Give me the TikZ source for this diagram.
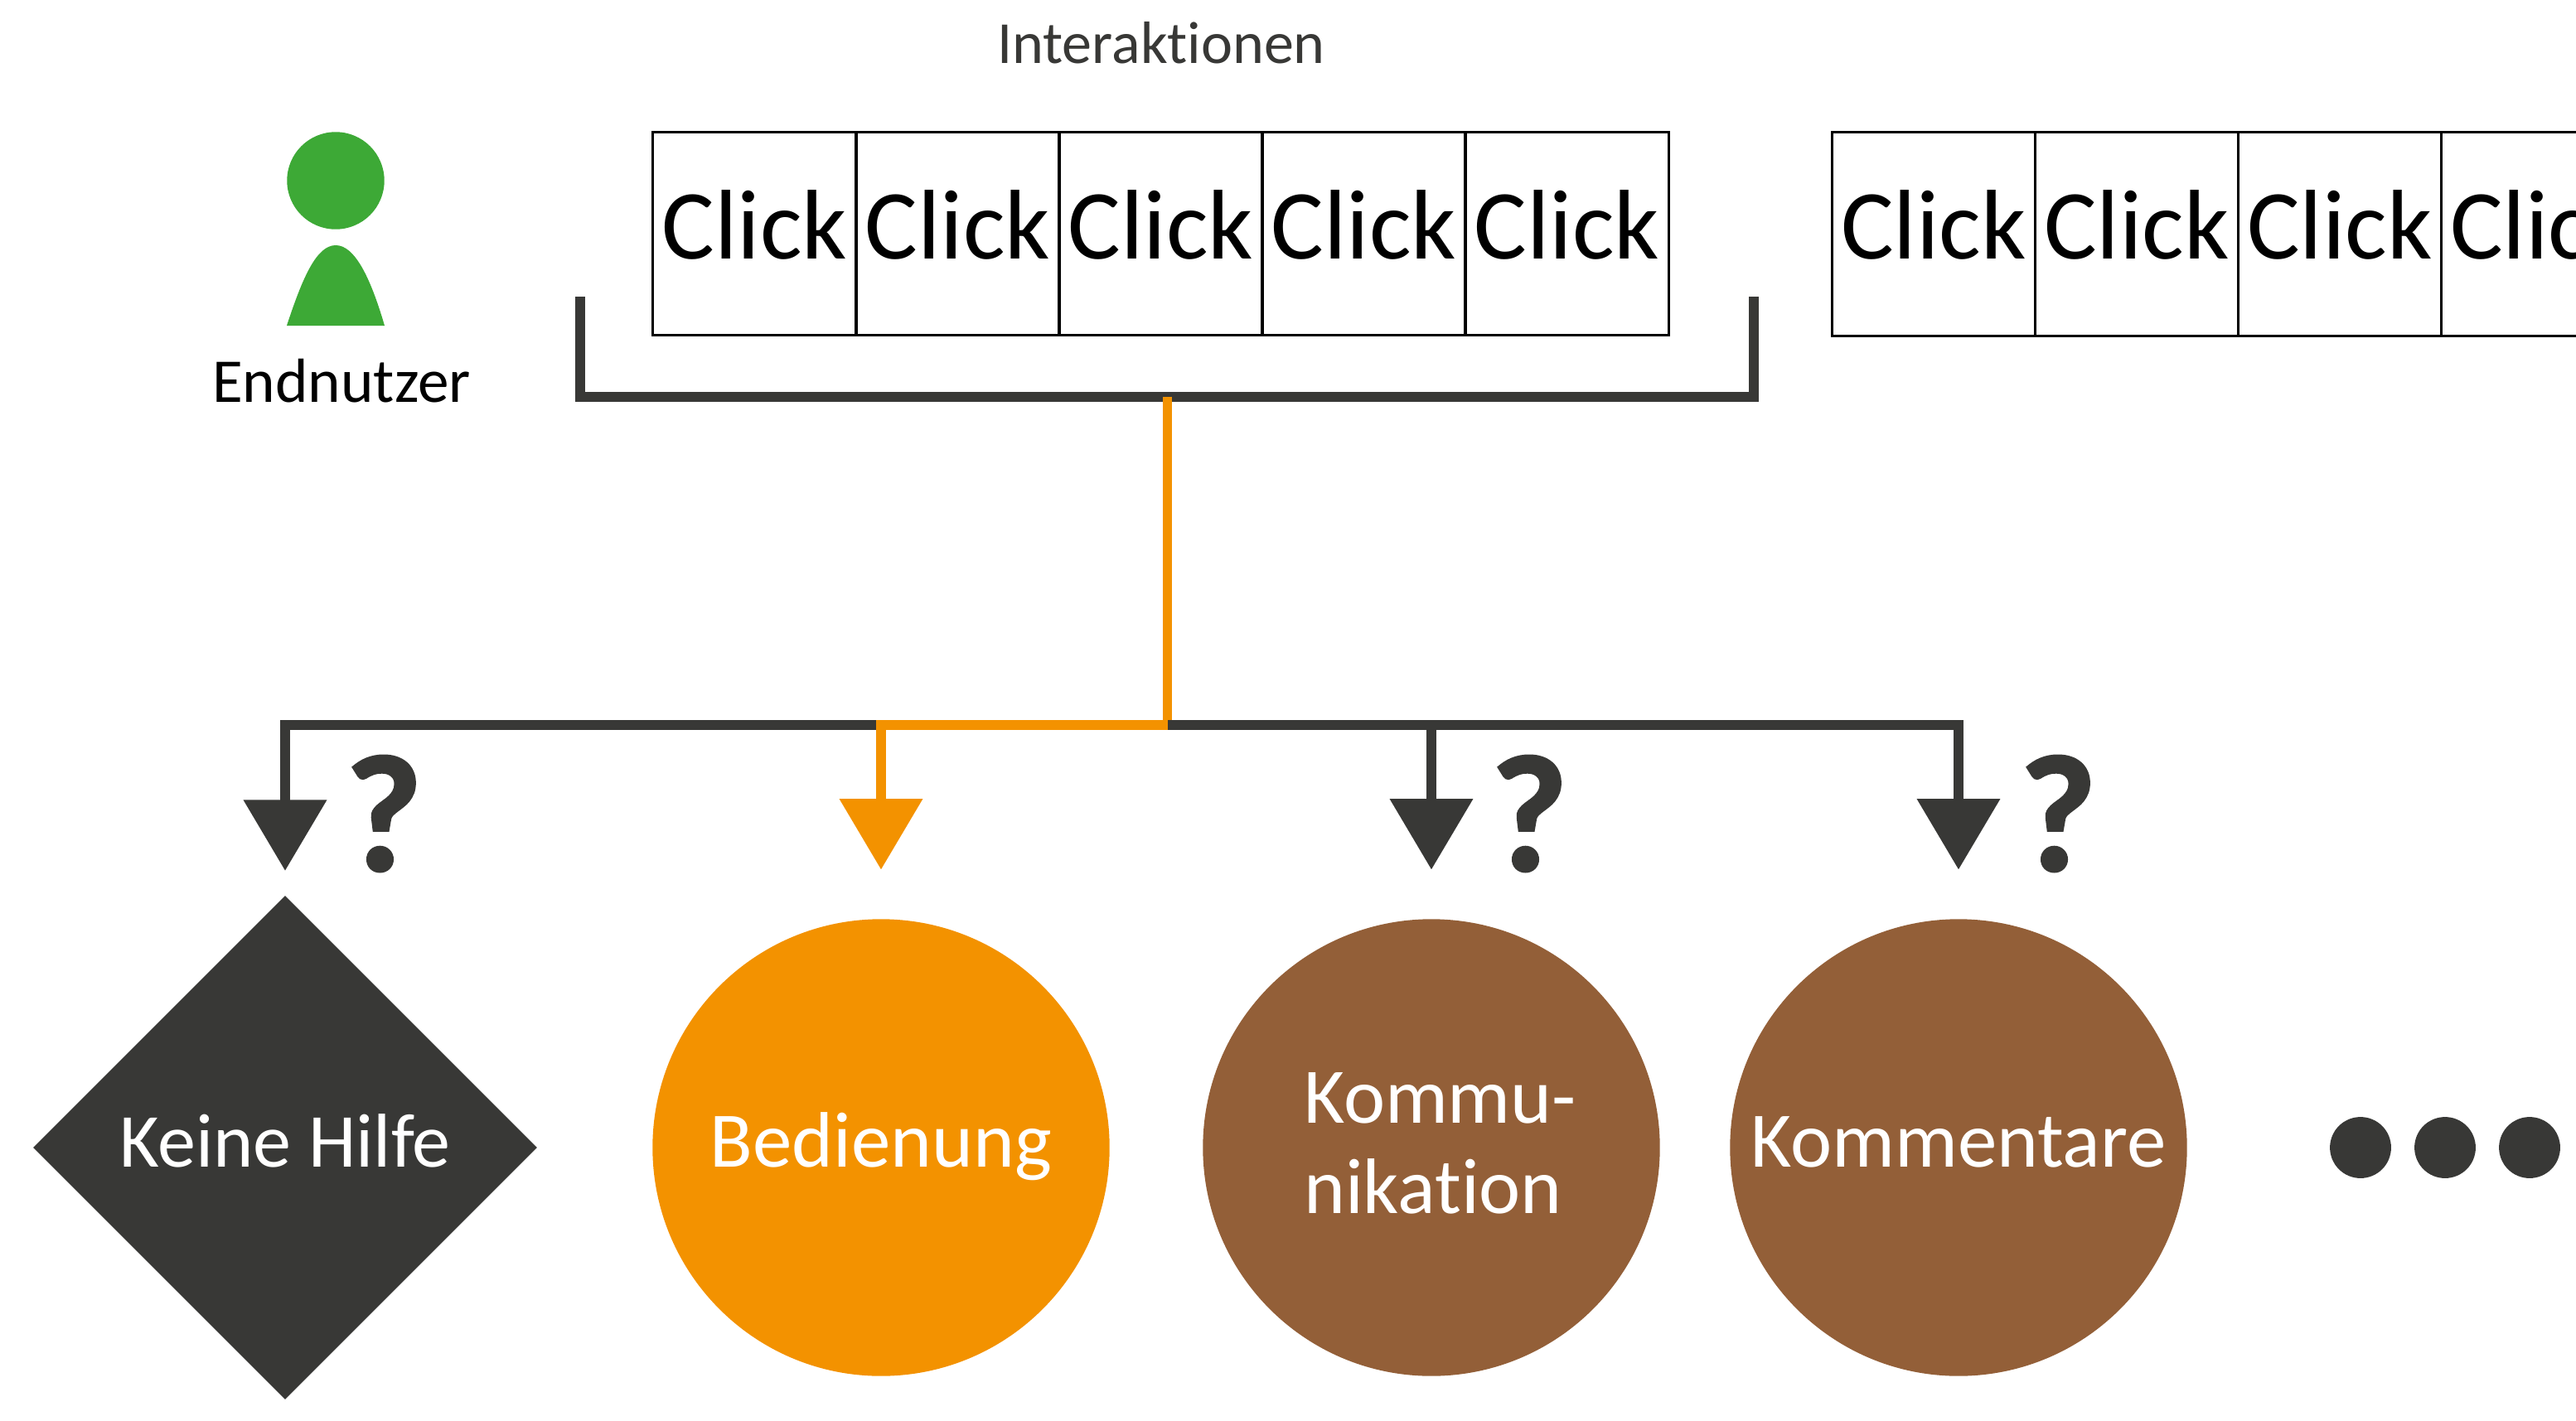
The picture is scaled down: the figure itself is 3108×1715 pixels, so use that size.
\documentclass[tikz,border=0pt]{standalone}
\usepackage{fontspec}
\setmainfont{Carlito}[Ligatures=CommonOff]
\newfontfamily\askfont{Carlito}[FakeBold=1.6]
\usepackage{xcolor}
\usetikzlibrary{shapes.geometric, arrows.meta, positioning, calc}
\definecolor{flowdark}{HTML}{383836}
\definecolor{floworange}{HTML}{F39200}
\definecolor{flowbrown}{HTML}{935F38}
\definecolor{flowgreen}{HTML}{3DA936}
\tikzset{
    clickbox/.style={draw=black, line width=0.85pt, minimum width=69.7pt, minimum height=69.7pt, inner sep=0pt, text depth=6.4pt, font=\fontsize{34}{40}\selectfont},
    flowline/.style={line width=3.4pt, flowdark},
    flowarrow/.style={flowline, -{Triangle[length=24.3pt, width=27.8pt]}},
    targetlabel/.style={inner sep=0pt, text=white, font=\fontsize{27}{31}\selectfont},
    roundbox/.style={targetlabel, circle, minimum size=156.8pt},
    askmark/.style={flowdark, font=\fontsize{57}{60}\askfont\bfseries},
    moredot/.style={circle, fill=flowdark, minimum size=21pt, inner sep=0pt}
}
\begin{document}
\begin{tikzpicture}[x=0.01cm, y=-0.01cm]
    \useasboundingbox (0,0) rectangle (3108,1715);
    \clip (0,0) rectangle (3108,1715);

    % Person
    \node[circle, fill=flowgreen, minimum size=33.4pt, inner sep=0pt] (head) at (405,218) {};
    \fill[flowgreen] (346,393) .. controls (365,335) and (382,296) .. (405,296) .. controls (428,296) and (447,335) .. (464,393) -- cycle;
    \node[font=\fontsize{21.4}{24}\selectfont] (endnutzer) at (412,460) {Endnutzer};

    % Click rows
    \node[text=flowdark, font=\fontsize{20.5}{24}\selectfont] (interaktionen) at (1401,52) {Interaktionen};
    \foreach \i in {0,...,4}
        \node[clickbox] (first\i) at ({788+245*\i+122.5},282) {Click};
    \foreach \i in {0,...,3}
        \node[clickbox] (second\i) at ({2210.5+245*\i+122.5},282.5) {Click};

    % Bracket
    \coordinate (bracketl) at (700,358);
    \coordinate (bracketr) at (2116,358);
    \coordinate (top) at (1408.5,479);
    \coordinate (hub) at (1408.5,875);
    \draw[flowline] (bracketl) |- (top) -| (bracketr);

    % Targets
    \node[targetlabel, diamond, aspect=1, fill=flowdark, minimum width=173pt, minimum height=173pt, text height=19pt, text depth=5.6pt, font=\fontsize{26.2}{31}\selectfont] (keine) at (344,1385) {Keine Hilfe};
    \node[roundbox, fill=floworange, text height=19pt, text depth=5.6pt] (bedienung) at (1063,1385) {Bedienung};
    \node[roundbox, fill=flowbrown, align=left, text depth=3pt] (kommunikation) at (1727,1385) {\hspace*{6pt}Kommu-\\\hspace*{6pt}nikation};
    \node[roundbox, fill=flowbrown, text height=19pt, text depth=5.6pt] (kommentare) at (2363,1385) {Kommentare};

    % Branches
    \draw[flowarrow, shorten >=8.3pt] (hub) -| (keine);
    \draw[flowarrow, shorten >=16.8pt] (hub) -| (kommunikation);
    \draw[flowarrow, shorten >=16.8pt] (hub) -| (kommentare);
    \draw[flowarrow, floworange, shorten >=16.8pt] (hub) -| (bedienung);
    \draw[flowline, floworange, shorten >=1.7pt] (top) -- (hub);

    % Question marks
    \node[askmark] (askkeine) at (463,982) {?};
    \node[askmark] (askkommunikation) at (1845,982) {?};
    \node[askmark] (askkommentare) at (2483,982) {?};

    % More
    \node[moredot] (morea) at (2848,1385) {};
    \node[moredot] (moreb) at (2950,1385) {};
    \node[moredot] (morec) at (3052,1385) {};
\end{tikzpicture}
\end{document}
